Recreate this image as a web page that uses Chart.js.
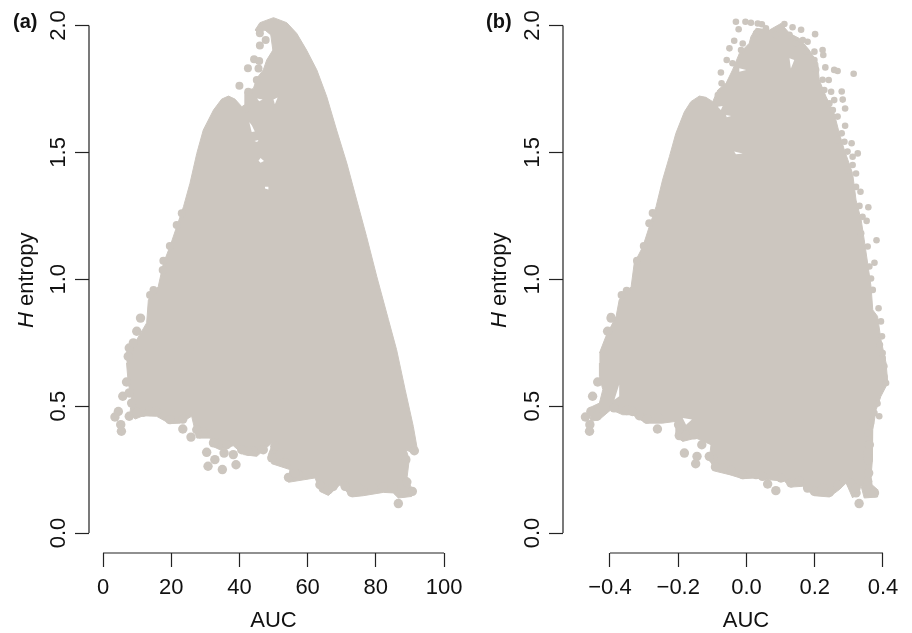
<!DOCTYPE html>
<html>
<head>
<meta charset="utf-8">
<title>H entropy vs AUC</title>
<script src="https://cdn.jsdelivr.net/npm/chart.js@4"></script>
<style>
html,body{margin:0;padding:0;background:#fff;width:912px;height:633px;overflow:hidden}
canvas{position:absolute;top:0}
#ca{left:0}
#cb{left:456px}
</style>
</head>
<body>
<canvas id="ca" width="480" height="633"></canvas>
<canvas id="cb" width="480" height="633"></canvas>
<script>
const yTicks = [0, 0.5, 1, 1.5, 2];
const yLabels = ['0.0', '0.5', '1.0', '1.5', '2.0'];
const xTicksA = [0, 20, 40, 60, 80, 100];
const xLabelsA = ['0', '20', '40', '60', '80', '100'];
const xTicksB = [-0.4, -0.2, 0, 0.2, 0.4];
const xLabelsB = ['\u22120.4', '\u22120.2', '0.0', '0.2', '0.4'];
const xTitle = 'AUC';
const yTitleItalic = 'H';
const yTitleRest = ' entropy';

/* Panel (a): outline of the solid point cloud [AUC, H] */
const cloudA = [[6.9,.709],[8.4,.736],[9.9,.762],[12.8,.828],[13.3,.918],[16.2,.971],[17.7,1.063],[19.6,1.128],[21.6,1.207],[23.6,1.286],[25.5,1.378],[27.5,1.496],[29.4,1.588],[32.4,1.667],[34.8,1.710],[36.8,1.722],[38.7,1.710],[40.7,1.680],[41.6,1.687],[41.6,1.739],[44.1,1.752],[45.1,1.792],[47.0,1.825],[48.0,1.864],[49.8,1.903],[49.2,1.963],[47.5,1.982],[45.6,1.969],[44.6,1.982],[46.0,2.011],[50.0,2.031],[53.9,2.011],[56.8,1.969],[59.7,1.903],[62.7,1.825],[65.6,1.720],[68.5,1.588],[71.5,1.457],[74.4,1.312],[77.3,1.168],[80.3,1.010],[83.2,.866],[83.7,.841],[86.1,.722],[88.6,.565],[91.0,.420],[92.2,.328],[91.0,.313],[88.9,.328],[89.8,.289],[89.2,.223],[90.2,.184],[92.0,.164],[90.5,.144],[86.6,.138],[85.1,.158],[82.2,.160],[76.3,.147],[72.9,.142],[69.5,.190],[66.1,.148],[63.6,.164],[62.2,.217],[54.4,.200],[54.8,.250],[49.5,.273],[48.5,.309],[50.0,.361],[45.1,.302],[41.2,.309],[38.2,.344],[34.3,.328],[32.4,.340],[31.4,.374],[27.5,.374],[26.0,.460],[22.6,.433],[19.6,.431],[15.7,.460],[11.8,.462],[9.4,.449],[7.9,.473],[8.4,.525],[7.4,.591],[6.9,.670]];
/* Panel (a): separately visible points */
const lowPointsA = [[3.5,.457],[5.2,.427],[5.4,.401],[5.8,.539],[6.9,.595],[9.9,.795],[11.0,.847],[7.7,.460],[4.5,.479],[11.8,.476],[19.6,.447],[23.4,.449],[23.4,.410],[25.8,.378],[28.4,.391],[30.4,.318],[30.8,.263],[32.8,.289],[35.0,.250],[39.0,.269],[38.2,.309],[35.5,.315],[33.3,.355],[40.7,.328],[44.1,.322],[49.5,.296],[50.4,.342],[53.7,.276],[54.4,.219],[57.3,.230],[63.6,.190],[66.1,.171],[72.9,.160],[76.3,.167],[82.2,.181],[86.6,.116],[90.7,.164],[88.1,.158],[91.3,.324],[88.8,.289],[89.1,.201],[79.3,.177],[85.1,.177],[67.5,.184],[71.0,.184],[74.9,.177],[59.7,.230],[56.3,.236],[51.9,.309],[47.0,.328],[42.6,.322],[36.3,.348],[32.4,.355],[29.4,.397],[27.5,.407],[15.7,.479],[13.8,.479],[9.9,.476],[8.4,.512],[7.7,.552],[7.4,.696],[7.7,.729],[8.9,.749]];
const highPointsA = [[46.0,1.969],[47.7,1.943],[46.0,1.921],[44.3,1.867],[45.8,1.860],[42.5,1.832],[40.0,1.763],[45.6,1.831],[45.1,1.785],[42.6,1.739],[42.1,1.674],[23.1,1.260],[21.6,1.214],[19.6,1.131],[17.7,1.073],[17.5,1.036],[14.8,.958],[13.8,.938]];
/* Panel (a): small white gaps left inside the cloud */
const gapsA = [
  [[42.9,1.620],[43.6,1.580],[44.5,1.582],[43.7,1.605]],
  [[45.6,1.467],[46.2,1.478],[47.2,1.466],[46.2,1.459]],
  [[47.5,1.365],[48.5,1.365],[48.5,1.354],[47.5,1.358]],
  [[44.4,1.545],[45.6,1.549],[45.2,1.541]],
  [[50.0,1.708],[51.2,1.716],[50.4,1.690]],
  [[45.2,1.712],[46.8,1.708],[45.8,1.702]]
];

/* Panel (b): outline of the solid point cloud */
const cloudB = [[-.431,.709],[-.412,.775],[-.382,.854],[-.373,.919],[-.338,.971],[-.329,1.063],[-.304,1.128],[-.285,1.207],[-.265,1.286],[-.246,1.391],[-.226,1.483],[-.207,1.575],[-.182,1.660],[-.163,1.700],[-.138,1.722],[-.119,1.717],[-.099,1.700],[-.084,1.746],[-.060,1.772],[-.041,1.825],[-.021,1.890],[.008,1.930],[.013,1.956],[.028,1.989],[.067,1.982],[.101,2.008],[.126,1.969],[.155,1.949],[.184,1.903],[.209,1.851],[.213,1.786],[.233,1.720],[.257,1.654],[.272,1.575],[.287,1.509],[.311,1.417],[.321,1.312],[.336,1.234],[.345,1.155],[.355,1.063],[.365,.971],[.370,.879],[.384,.854],[.394,.762],[.409,.670],[.414,.591],[.394,.539],[.380,.486],[.370,.407],[.370,.342],[.368,.289],[.365,.223],[.368,.190],[.384,.171],[.384,.142],[.345,.138],[.336,.184],[.311,.138],[.292,.197],[.272,.171],[.243,.142],[.199,.147],[.164,.184],[.130,.181],[.111,.204],[.067,.210],[.028,.217],[-.011,.214],[-.050,.230],[-.090,.243],[-.109,.289],[-.104,.348],[-.148,.374],[-.187,.361],[-.207,.381],[-.207,.440],[-.246,.433],[-.295,.433],[-.334,.466],[-.363,.466],[-.397,.486],[-.431,.447],[-.456,.440],[-.461,.493],[-.431,.512],[-.421,.565],[-.431,.617],[-.431,.670]];
/* Panel (b): separately visible points */
const lowPointsB = [[-.472,.457],[-.456,.479],[-.459,.427],[-.460,.401],[-.451,.539],[-.436,.595],[-.407,.795],[-.397,.847],[-.438,.460],[-.351,.483],[-.314,.462],[-.292,.449],[-.258,.453],[-.261,.410],[-.199,.427],[-.197,.384],[-.131,.348],[-.182,.315],[-.145,.302],[-.149,.273],[-.099,.296],[-.091,.260],[-.045,.247],[-.011,.230],[.062,.193],[.086,.167],[.130,.197],[.199,.164],[.243,.160],[.267,.188],[.321,.158],[.330,.116],[.357,.158],[.375,.158],[.355,.204],[.360,.348],[.357,.289],[-.388,.493],[-.334,.479],[-.177,.387],[-.153,.387],[-.109,.302],[-.070,.256],[.028,.230],[.047,.223],[.101,.217],[.155,.204],[.179,.177],[.223,.177],[.287,.217],[.306,.197],[.321,.177],[.355,.315],[.358,.236]];
const midPointsB = [[-.275,1.261],[-.285,1.221],[-.301,1.131],[-.321,1.073],[-.351,.955],[-.366,.938],[-.397,.852]];
const highPointsB = [[-.031,2.015],[-.023,1.985],[-.003,2.015],[.013,2.011],[.033,2.008],[.045,2.005],[.111,2.006],[.135,1.993],[.160,1.983],[.201,1.966],[.165,1.943],[.179,1.936],[.223,1.903],[.225,1.884],[.231,1.835],[.257,1.825],[.267,1.821],[.314,1.810],[.241,1.785],[.248,1.739],[.279,1.740],[.257,1.706],[.282,1.708],[.289,1.673],[.289,1.605],[.279,1.575],[.308,1.536],[.326,1.496],[.311,1.450],[.321,1.417],[.334,1.345],[.357,1.284],[.331,1.289],[.352,1.230],[.381,1.154],[.355,1.129],[.375,1.065],[.360,1.050],[.387,.886],[.370,.958],[-.036,1.940],[-.050,1.910],[-.058,1.864],[-.075,1.815],[-.073,1.772],[-.041,1.851],[-.084,1.726],[.409,.591],[.389,.460],[.384,.510],[.394,.834],[.399,.690],[-.011,1.929],[-.016,1.903],[.028,1.969],[.057,1.989],[.086,1.963],[.126,1.963],[.145,1.930],[.174,1.897],[.199,1.897],[.199,1.864],[.204,1.825],[.223,1.786],[.228,1.746],[.243,1.693],[.253,1.667],[.267,1.641],[.267,1.549],[.287,1.542],[.296,1.503],[.311,1.483],[.296,1.430],[.321,1.364],[.340,1.246],[.336,1.181],[.365,1.003],[.397,.775],[.391,.742],[.399,.709],[.404,.657],[.404,.617],[.375,.473],[.365,.434],[.355,.394]];
/* Panel (b): small white gaps left inside the cloud */
const gapsB = [
  [[-.084,1.680],[-.070,1.683],[-.075,1.667]],
  [[-.060,1.647],[-.045,1.643],[-.058,1.638]],
  [[-.036,1.503],[-.011,1.496],[-.031,1.493]],
  [[-.021,1.832],[-.001,1.825],[-.021,1.818]],
  [[.126,1.871],[.140,1.864],[.130,1.831]],
  [[-.373,.585],[-.387,.525],[-.373,.539]],
  [[-.187,.453],[-.160,.447],[-.177,.427]]
];

const POINT = '#ccc6bf';
const INK = '#222222';
const FONT = '"Liberation Sans", Arial, Helvetica, sans-serif';
const asXY = a => a.map(p => ({x: p[0], y: p[1]}));
const noMargins = s => { s.paddingLeft = s.paddingRight = s.paddingTop = s.paddingBottom = 0; };

const axisLines = {
  id: 'axisLines',
  afterDraw(chart, args, o) {
    const {ctx, scales: {x, y}} = chart;
    ctx.save();
    ctx.strokeStyle = INK;
    ctx.lineWidth = 1.2;
    ctx.beginPath();
    const xs = x.ticks, ys = y.ticks;
    ctx.moveTo(x.getPixelForValue(xs[0].value), x.top);
    ctx.lineTo(x.getPixelForValue(xs[xs.length - 1].value), x.top);
    ctx.moveTo(y.right, y.getPixelForValue(ys[0].value));
    ctx.lineTo(y.right, y.getPixelForValue(ys[ys.length - 1].value));
    ctx.stroke();

    ctx.fillStyle = '#111';
    ctx.textBaseline = 'alphabetic';
    ctx.textAlign = 'left';
    ctx.font = 'bold 20px ' + FONT;
    ctx.fillText(o.panel, o.panelX, 28);

    ctx.translate(o.titleX, 328);
    ctx.rotate(-Math.PI / 2);
    ctx.font = 'italic 22px ' + FONT;
    ctx.fillText(yTitleItalic, 0, 0);
    const w = ctx.measureText(yTitleItalic).width;
    ctx.font = '22px ' + FONT;
    ctx.fillText(yTitleRest, w, 0);
    ctx.restore();
  }
};

function panel(id, cfg) {
  const dot = (label, data, r) => ({
    label, data: asXY(data), type: 'scatter', backgroundColor: POINT,
    borderColor: POINT, borderWidth: 0, pointRadius: r, pointHoverRadius: r, clip: false
  });
  const gap = (g, i) => ({
    label: 'gap' + i, data: asXY(g), showLine: true, fill: 'shape',
    backgroundColor: '#ffffff', borderColor: 'transparent', borderWidth: 0,
    pointRadius: 0, tension: 0, clip: false
  });
  new Chart(document.getElementById(id), {
    type: 'scatter',
    plugins: [axisLines],
    data: {
      datasets: [
        ...cfg.gaps.map(gap),
        ...cfg.dots.map(d => dot(d[0], d[1], d[2])),
        {label: 'cloud', data: asXY(cfg.cloud), showLine: true, fill: 'shape',
         backgroundColor: POINT, borderColor: POINT, borderWidth: 1,
         pointRadius: 0, tension: 0, clip: false}
      ]
    },
    options: {
      responsive: false,
      animation: false,
      layout: {padding: {top: 8, left: 0, right: cfg.padRight, bottom: 0}},
      plugins: {
        legend: {display: false},
        tooltip: {enabled: false},
        axisLines: {panel: cfg.panel, panelX: cfg.panelX, titleX: cfg.titleX}
      },
      scales: {
        x: {
          type: 'linear', min: cfg.xMin, max: cfg.xMax, position: 'bottom',
          afterBuildTicks: s => { s.ticks = cfg.xTicks.map(v => ({value: v})); },
          afterFit: s => { s.height = 80; noMargins(s); },
          border: {display: false},
          grid: {drawOnChartArea: false, drawTicks: true, tickLength: 14, tickColor: INK, tickWidth: 1.2, color: INK},
          ticks: {autoSkip: false, maxRotation: 0, minRotation: 0, padding: 8, color: '#111',
                  font: {family: FONT, size: 22}, callback: (v, i) => cfg.xLabels[i]},
          title: {display: true, text: xTitle, color: '#111', font: {family: FONT, size: 22, lineHeight: 1},
                  padding: {top: 0, bottom: 1}}
        },
        y: {
          type: 'linear', min: -0.0788, max: 2.069, position: 'left',
          afterBuildTicks: s => { s.ticks = yTicks.map(v => ({value: v})); },
          afterFit: s => { s.width = cfg.yWidth; noMargins(s); },
          border: {display: false},
          grid: {drawOnChartArea: false, drawTicks: true, tickLength: 14, tickColor: INK, tickWidth: 1.2, color: INK},
          ticks: {autoSkip: false, minRotation: 90, maxRotation: 90, padding: 1, crossAlign: 'center', color: '#111',
                  font: {family: FONT, size: 22}, callback: (v, i) => yLabels[i]}
        }
      }
    }
  });
}

panel('ca', {
  panel: '(a)', panelX: 13, titleX: 33, yWidth: 89, padRight: 22, xMin: -4.106, xMax: 104.1,
  xTicks: xTicksA, xLabels: xLabelsA, cloud: cloudA, gaps: gapsA,
  dots: [['low', lowPointsA, 4.7], ['high', highPointsA, 4]]
});
panel('cb', {
  panel: '(b)', panelX: 30, titleX: 50, yWidth: 107, padRight: 7, xMin: -0.5377, xMax: 0.5348,
  xTicks: xTicksB, xLabels: xLabelsB, cloud: cloudB, gaps: gapsB,
  dots: [['low', lowPointsB, 4.7], ['mid', midPointsB, 4], ['high', highPointsB, 3.3]]
});
</script>
</body>
</html>
